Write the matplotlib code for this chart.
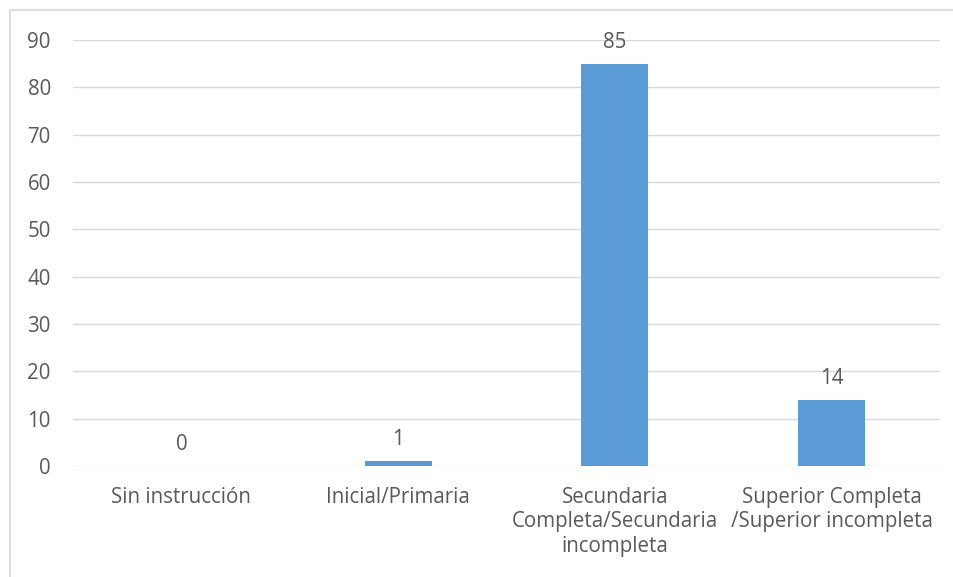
import matplotlib
matplotlib.use("Agg")
import matplotlib.pyplot as plt
from matplotlib.lines import Line2D

categories = [
    "Sin instrucción",
    "Inicial/Primaria",
    "Secundaria\nCompleta/Secundaria\nincompleta",
    "Superior Completa\n/Superior incompleta",
]
values = [0, 1, 85, 14]
yticks = [0, 10, 20, 30, 40, 50, 60, 70, 80, 90]

plt.rcParams["font.family"] = ["Open Sans", "DejaVu Sans"]
text_color = "#595959"
bar_color = "#5B9BD5"
grid_color = "#D9D9D9"
fs = 14.8

fig = plt.figure(figsize=(9.54, 5.77), dpi=100)
W, H = 954, 577
ax = fig.add_axes([73 / W, 1 - 466 / H, (940 - 73) / W, (466 - 40) / H])

x = list(range(len(categories)))
ax.bar(x, values, width=0.31, color=bar_color, zorder=3)
ax.set_xlim(-0.5, len(categories) - 0.5)
ax.set_ylim(0, 90)
ax.set_yticks(yticks)
ax.set_xticks(x)
ax.set_xticklabels(categories, fontsize=fs, color=text_color, linespacing=1.22)
ax.tick_params(axis="y", labelsize=fs, labelcolor=text_color, length=0, pad=16)
ax.tick_params(axis="x", length=0, pad=15)
ax.grid(axis="y", color=grid_color, linewidth=1.0, zorder=0)
for s in ax.spines.values():
    s.set_visible(False)

for xi, v in zip(x, values):
    ax.annotate(str(v), (xi, v), xytext=(0, 8), textcoords="offset points",
                ha="center", va="bottom", fontsize=fs, color=text_color)

# outer chart frame (left and top edges)
fig.add_artist(Line2D([10 / W, 10 / W], [0, 1 - 10 / H], transform=fig.transFigure,
                      color=grid_color, linewidth=1.2))
fig.add_artist(Line2D([10 / W, 1], [1 - 10 / H, 1 - 10 / H], transform=fig.transFigure,
                      color=grid_color, linewidth=1.2))

fig.savefig("out.png", dpi=100)
